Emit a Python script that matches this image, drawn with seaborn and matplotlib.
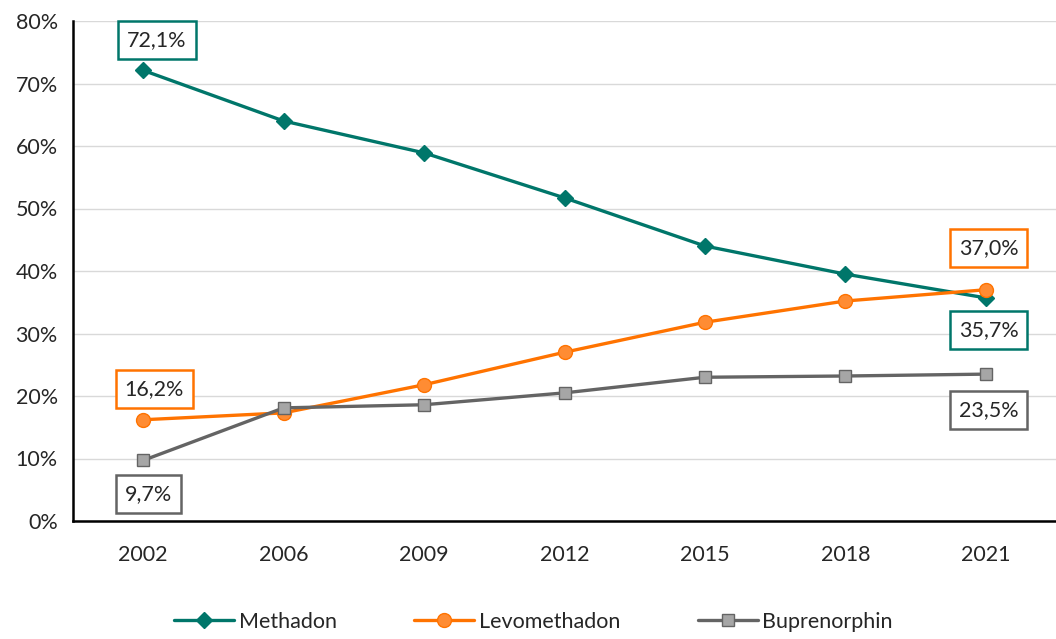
import pandas as pd
import seaborn as sns
import matplotlib.pyplot as plt
from matplotlib.lines import Line2D
from matplotlib.ticker import FuncFormatter

years = ['2002', '2006', '2009', '2012', '2015', '2018', '2021']
methadon = [72.1, 64.0, 58.9, 51.7, 44.0, 39.5, 35.7]
levomethadon = [16.2, 17.3, 21.8, 27.0, 31.8, 35.2, 37.0]
buprenorphin = [9.7, 18.1, 18.6, 20.5, 23.0, 23.2, 23.5]

series = ['Methadon', 'Levomethadon', 'Buprenorphin']
colors = {'Methadon': '#00766a', 'Levomethadon': '#ff7300', 'Buprenorphin': '#646464'}
faces = {'Methadon': '#00766a', 'Levomethadon': '#ff8c33', 'Buprenorphin': '#a6a6a6'}
markers = {'Methadon': 'D', 'Levomethadon': 'o', 'Buprenorphin': 's'}
msizes = {'Methadon': 8, 'Levomethadon': 10, 'Buprenorphin': 9}

df = pd.DataFrame({'year': years * 3,
                   'value': methadon + levomethadon + buprenorphin,
                   'series': [s for s in series for _ in years]})

sns.set_style('white')
plt.rcParams['font.family'] = ['Lato', 'DejaVu Sans']
fs = 15.5

fig = plt.figure(figsize=(10.56, 6.39), dpi=100)
ax = fig.add_axes([73 / 1056, 118 / 639, 983 / 1056, 500 / 639])

for s in series:
    sub = df[df['series'] == s]
    sns.lineplot(data=sub, x='year', y='value', ax=ax, color=colors[s], lw=2.4,
                 marker=markers[s], markersize=msizes[s], markerfacecolor=faces[s],
                 markeredgecolor=colors[s], markeredgewidth=1, sort=False, legend=False)

ax.set_xlim(-0.5, 6.5)
ax.set_ylim(0, 80)
ax.set_yticks(range(0, 81, 10))
ax.yaxis.set_major_formatter(FuncFormatter(lambda v, p: f'{v:.0f}%'))
ax.grid(axis='y', color='#d9d9d9', lw=1)
ax.set_axisbelow(True)
ax.set_xlabel('')
ax.set_ylabel('')
for side in ['top', 'right']:
    ax.spines[side].set_visible(False)
ax.spines['left'].set_color('black')
ax.spines['left'].set_linewidth(1.8)
ax.spines['bottom'].set_color('black')
ax.spines['bottom'].set_linewidth(1.8)
ax.set_xticks(range(len(years)))
ax.set_xticklabels(years)
ax.set_xticks([i - 0.5 for i in range(len(years) + 1)], minor=True)
ax.tick_params(axis='x', which='major', length=0, pad=17, labelsize=fs)
ax.tick_params(axis='x', which='minor', length=7, width=1.5, direction='out', colors='black')
ax.tick_params(axis='y', length=7, width=1.5, direction='out', labelsize=fs, pad=4)

def label(xi, val, col, dx, dy):
    ax.annotate(f'{val:.1f}%'.replace('.', ','), xy=(xi, val), xytext=(dx, dy),
                textcoords='offset points', ha='center', va='center', fontsize=fs,
                bbox=dict(boxstyle='square,pad=0.42', fc='white', ec=col, lw=1.8))

label(0, methadon[0], colors['Methadon'], 10, 22)
label(6, methadon[-1], colors['Methadon'], 2, -23)
label(0, levomethadon[0], colors['Levomethadon'], 8, 22)
label(6, levomethadon[-1], colors['Levomethadon'], 2, 30)
label(0, buprenorphin[0], colors['Buprenorphin'], 4, -24)
label(6, buprenorphin[-1], colors['Buprenorphin'], 2, -26)

handles = [Line2D([], [], color=colors[s], lw=2.4, marker=markers[s], markersize=msizes[s],
                  markerfacecolor=faces[s], markeredgecolor=colors[s]) for s in series]
fig.legend(handles, series, loc='center', bbox_to_anchor=(0.505, 17 / 639), ncol=3,
           frameon=False, fontsize=fs, handlelength=2.8, handletextpad=0.2,
           columnspacing=3.6)

fig.savefig('out.png', dpi=100)
